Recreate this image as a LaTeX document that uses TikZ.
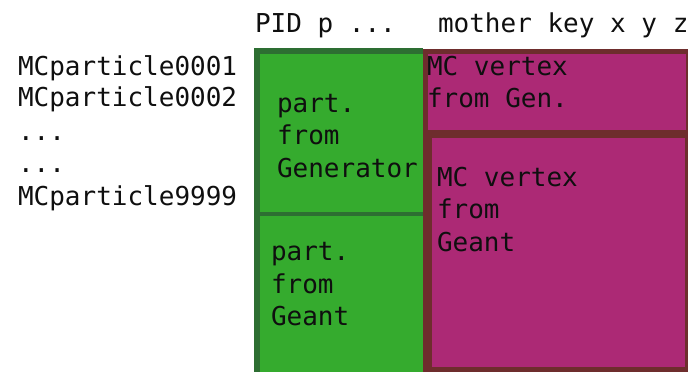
\documentclass[tikz,border=0pt]{standalone}
\usepackage{fontspec}
\newfontfamily\dmono{DejaVu Sans Mono}
\definecolor{partgreen}{RGB}{53,171,46}
\definecolor{partedge}{RGB}{45,110,50}
\definecolor{vtxfill}{RGB}{172,41,117}
\definecolor{vtxedge}{RGB}{110,45,45}
\definecolor{ink}{RGB}{15,15,15}
\tikzset{
  lbl/.style={anchor=base west, inner sep=0pt, outer sep=0pt, text=ink,
              font=\dmono\fontsize{26}{32}\selectfont},
}
\begin{document}
\begin{tikzpicture}[x=1pt,y=-1pt]
\useasboundingbox[fill=white] (0,0) rectangle (690,372);

% particle table: two green blocks on a dark green frame
\fill[partedge] (254,48) rectangle (423,372);
\fill[partgreen] (260,54) rectangle (423,212);
\fill[partgreen] (260,216) rectangle (423,372);

% vertex table: two magenta blocks on a brown frame
\fill[vtxedge] (423,49) rectangle (688,372);
\fill[vtxfill] (428,54) rectangle (686,130);
\fill[vtxfill] (432,138) rectangle (685,367);

% column headers
\node[lbl] (hpart) at (255,32) {PID p ...};
\node[lbl] (hvtx) at (438,32) {mother key x y z};

% row names
\node[lbl] (r1) at (18,75) {MCparticle0001};
\node[lbl] (r2) at (18,106) {MCparticle0002};
\node[lbl] (r3) at (18,140) {...};
\node[lbl] (r4) at (18,172.5) {...};
\node[lbl] (r5) at (18,205) {MCparticle9999};

% particles from the generator
\node[lbl] (pg1) at (277,112) {part.};
\node[lbl] (pg2) at (277,144.5) {from};
\node[lbl] (pg3) at (277,177) {Generator};

% particles from Geant
\node[lbl] (pm1) at (271,260.5) {part.};
\node[lbl] (pm2) at (271,293) {from};
\node[lbl] (pm3) at (271,325.5) {Geant};

% vertices from the generator
\node[lbl] (vg1) at (427,75) {MC vertex};
\node[lbl] (vg2) at (427,107.5) {from Gen.};

% vertices from Geant
\node[lbl] (vm1) at (437,186) {MC vertex};
\node[lbl] (vm2) at (437,218.5) {from};
\node[lbl] (vm3) at (437,251) {Geant};
\end{tikzpicture}
\end{document}
